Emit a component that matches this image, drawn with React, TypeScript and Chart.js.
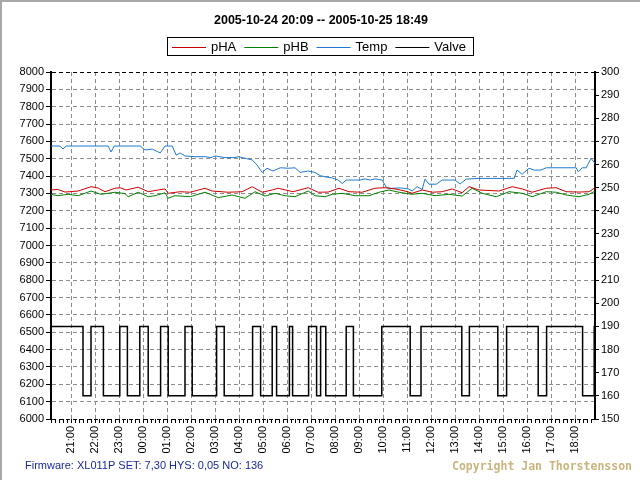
import React, { useEffect, useRef } from 'react';
import { Chart, registerables } from 'chart.js';

Chart.register(...registerables);

// ---------- text ----------
const titleText = '2005-10-24 20:09 -- 2005-10-25 18:49';
const firmwareText = 'Firmware: XL011P SET: 7,30 HYS: 0,05 NO: 136';
const copyrightText = 'Copyright Jan Thorstensson';
const seriesNames = ['pHA', 'pHB', 'Temp', 'Valve'];
const seriesColors = ['#cc0000', '#008000', '#1e7ad0', '#000000'];

// ---------- axes ----------
const startHour = 20;
const startMinute = 9;
const xMinMinutes = 0;
const xMaxMinutes = 1360; // 20:09 -> 18:49 next day
const leftMin = 6000;
const leftMax = 8000;
const leftStep = 100;
const rightMin = 150;
const rightMax = 300;
const rightStep = 10;

// ---------- data (x = minutes since 20:09) ----------
const phaTimes = [0, 17, 35, 68, 100, 118, 135, 160, 173, 188, 218, 243, 268, 285, 293, 323, 348, 385, 403, 443, 478, 503, 528, 553, 568, 605, 643, 668, 693, 720, 745, 778, 810, 835, 860, 885, 903, 928, 953, 978, 1003, 1028, 1045, 1070, 1120, 1153, 1178, 1203, 1238, 1263, 1288, 1320, 1345, 1360];
const phaValues = [7320, 7323, 7308, 7314, 7339, 7331, 7310, 7330, 7333, 7320, 7336, 7310, 7320, 7326, 7301, 7310, 7307, 7330, 7314, 7307, 7310, 7339, 7307, 7320, 7330, 7310, 7333, 7307, 7308, 7330, 7310, 7307, 7330, 7333, 7326, 7314, 7301, 7320, 7307, 7310, 7326, 7304, 7339, 7320, 7314, 7339, 7326, 7307, 7330, 7333, 7310, 7308, 7310, 7333];

const phbTimes = [0, 17, 43, 68, 100, 125, 160, 185, 193, 218, 243, 260, 285, 293, 310, 348, 385, 418, 453, 485, 510, 535, 560, 585, 610, 643, 660, 685, 703, 728, 760, 795, 820, 845, 870, 903, 928, 960, 995, 1028, 1053, 1078, 1113, 1145, 1178, 1203, 1238, 1263, 1288, 1320, 1345, 1360];
const phbValues = [7295, 7287, 7295, 7287, 7314, 7295, 7307, 7299, 7281, 7307, 7281, 7287, 7304, 7272, 7287, 7281, 7307, 7276, 7291, 7272, 7310, 7285, 7301, 7287, 7281, 7314, 7287, 7281, 7295, 7301, 7287, 7287, 7307, 7320, 7307, 7295, 7301, 7287, 7295, 7285, 7330, 7301, 7281, 7310, 7301, 7281, 7310, 7307, 7291, 7281, 7295, 7314];

const tempTimes = [0, 23, 30, 38, 143, 150, 158, 223, 235, 253, 273, 285, 303, 313, 323, 335, 360, 385, 400, 410, 435, 460, 468, 485, 503, 515, 528, 540, 555, 573, 593, 610, 623, 643, 660, 673, 685, 703, 718, 728, 738, 760, 773, 785, 798, 810, 828, 838, 848, 873, 893, 903, 915, 928, 935, 945, 963, 978, 1010, 1023, 1038, 1070, 1100, 1130, 1158, 1165, 1178, 1195, 1208, 1225, 1238, 1313, 1318, 1328, 1338, 1350, 1360];
const tempValues = [268.0, 268.0, 266.7, 268.0, 268.0, 265.4, 268.0, 268.0, 266.3, 266.7, 265.0, 268.0, 268.0, 264.1, 265.0, 263.7, 263.4, 263.4, 263.0, 263.7, 263.0, 263.0, 263.4, 262.7, 262.0, 259.8, 256.6, 258.4, 257.2, 258.6, 258.4, 258.6, 256.6, 257.2, 256.6, 255.2, 254.7, 254.2, 253.3, 251.8, 253.3, 253.3, 253.3, 253.8, 253.3, 253.8, 253.3, 250.2, 249.7, 249.9, 249.5, 248.6, 250.4, 249.2, 253.7, 251.5, 251.5, 253.3, 253.3, 251.6, 253.7, 254.0, 254.0, 254.0, 254.0, 257.6, 255.8, 258.4, 257.6, 257.6, 258.6, 258.6, 256.9, 258.6, 258.6, 262.7, 260.5];

const valveTimes = [0, 80, 100, 131, 172, 191, 222, 243, 274, 293, 335, 353, 414, 433, 504, 524, 553, 564, 596, 604, 644, 664, 674, 687, 738, 756, 827, 898, 925, 1027, 1046, 1117, 1139, 1218, 1239, 1329, 1358, 1360];
const valveValues = [190, 160, 190, 160, 190, 160, 190, 160, 190, 160, 190, 160, 190, 160, 190, 160, 190, 160, 190, 160, 190, 160, 190, 160, 190, 160, 190, 160, 190, 160, 190, 160, 190, 160, 190, 160, 190, 190];

const FONT = 'Arial, "Liberation Sans", sans-serif';

function toPoints(times: number[], values: number[]) {
  return times.map((t, i) => ({ x: t, y: values[i] }));
}

function clockMinutes(v: number) {
  return startHour * 60 + startMinute + v;
}
function isHourTick(v: number | undefined) {
  if (v === undefined) return false;
  return clockMinutes(v) % 60 === 0;
}
function hourLabel(v: number) {
  const h = Math.floor(clockMinutes(v) / 60) % 24;
  return (h < 10 ? '0' : '') + h + ':00';
}

const decorPlugin = {
  id: 'decor',
  afterDraw(chart: any) {
    const ctx = chart.ctx as CanvasRenderingContext2D;
    ctx.save();
    ctx.setLineDash([]);
    // frame
    ctx.fillStyle = '#a8a8a8';
    ctx.fillRect(0, 0, 640, 2);
    ctx.fillRect(0, 0, 2, 480);

    // title
    ctx.fillStyle = '#000';
    ctx.font = 'bold 12.5px ' + FONT;
    ctx.textAlign = 'center';
    ctx.textBaseline = 'middle';
    ctx.fillText(titleText, 321, 21);

    // legend
    ctx.font = '13px ' + FONT;
    const lineLen = 34;
    const widths = seriesNames.map((n) => ctx.measureText(n).width);
    const total = widths.reduce((a, w) => a + lineLen + 5 + w + 8, 0) + 4;
    const boxLeft = Math.round(320 - total / 2);
    const boxTop = 37;
    const boxH = 18;
    ctx.strokeStyle = '#000';
    ctx.lineWidth = 1;
    ctx.strokeRect(boxLeft + 0.5, boxTop + 0.5, Math.round(total), boxH);
    let x = boxLeft + 5;
    const cy = boxTop + boxH / 2 + 1;
    ctx.textAlign = 'left';
    seriesNames.forEach((n, i) => {
      ctx.fillStyle = seriesColors[i];
      ctx.fillRect(x, Math.round(cy), lineLen, 1);
      ctx.fillStyle = '#000';
      ctx.fillText(n, x + lineLen + 5, cy);
      x += lineLen + 5 + widths[i] + 8;
    });

    // footer
    ctx.textAlign = 'left';
    ctx.font = '11px ' + FONT;
    ctx.fillStyle = '#1a2a96';
    ctx.fillText(firmwareText, 25, 466);
    ctx.font = 'bold 11.5px "DejaVu Sans Mono", monospace';
    ctx.fillStyle = '#c8b47c';
    ctx.textAlign = 'right';
    ctx.fillText(copyrightText, 632, 467);
    ctx.restore();
  },
};

export default function App() {
  const ref = useRef<HTMLCanvasElement>(null);
  useEffect(() => {
    const canvas = ref.current!;
    const chart = new Chart(canvas, {
      type: 'line',
      data: {
        datasets: [
          { label: seriesNames[0], data: toPoints(phaTimes, phaValues), yAxisID: 'y', borderColor: seriesColors[0], borderWidth: 1, pointRadius: 0, tension: 0 },
          { label: seriesNames[1], data: toPoints(phbTimes, phbValues), yAxisID: 'y', borderColor: seriesColors[1], borderWidth: 1, pointRadius: 0, tension: 0 },
          { label: seriesNames[2], data: toPoints(tempTimes, tempValues), yAxisID: 'y2', borderColor: seriesColors[2], borderWidth: 1, pointRadius: 0, tension: 0 },
          { label: seriesNames[3], data: toPoints(valveTimes, valveValues), yAxisID: 'y2', borderColor: seriesColors[3], borderWidth: 1.5, pointRadius: 0, stepped: true },
        ],
      },
      options: {
        responsive: false,
        animation: false,
        devicePixelRatio: 1,
        layout: { padding: { top: 72, left: 0, right: 0, bottom: 0 } },
        plugins: {
          legend: { display: false },
          title: { display: false },
          tooltip: { enabled: false },
        },
        scales: {
          x: {
            type: 'linear',
            position: 'bottom',
            min: xMinMinutes,
            max: xMaxMinutes,
            afterBuildTicks: (scale: any) => {
              const t: any[] = [];
              for (let v = xMinMinutes + 1; v <= xMaxMinutes; v += 10) t.push({ value: v });
              scale.ticks = t;
            },
            afterFit: (scale: any) => { scale.height = 61; },
            ticks: {
              autoSkip: false,
              minRotation: 90,
              maxRotation: 90,
              padding: 3,
              color: '#000',
              font: { family: FONT, size: 11 },
              callback: (v: any) => (isHourTick(Number(v)) ? hourLabel(Number(v)) : ''),
            },
            grid: {
              color: (c: any) => (isHourTick(c.tick?.value) ? '#8c8c8c' : 'rgba(0,0,0,0)'),
              tickColor: '#000',
              tickLength: 4,
              tickBorderDash: [],
              lineWidth: 1,
            },
            border: { display: false, dash: [4, 3] },
          },
          y: {
            type: 'linear',
            position: 'left',
            min: leftMin,
            max: leftMax,
            afterFit: (scale: any) => { scale.width = 51; },
            ticks: {
              stepSize: leftStep,
              autoSkip: false,
              padding: 2,
              color: '#000',
              font: { family: FONT, size: 11 },
              callback: (v: any) => String(v),
            },
            grid: {
              color: (c: any) => (c.tick && (c.tick.value === leftMin || c.tick.value === leftMax) ? '#000' : '#8c8c8c'),
              tickColor: '#000',
              tickLength: 5,
              tickBorderDash: [],
              lineWidth: 1,
            },
            border: { display: true, color: '#000', width: 2, dash: [4, 3] },
          },
          y2: {
            type: 'linear',
            position: 'right',
            min: rightMin,
            max: rightMax,
            afterFit: (scale: any) => { scale.width = 45; },
            ticks: {
              stepSize: rightStep,
              autoSkip: false,
              padding: 2,
              color: '#000',
              font: { family: FONT, size: 11 },
              callback: (v: any) => String(v),
            },
            grid: {
              drawOnChartArea: false,
              tickColor: '#000',
              tickLength: 4,
              tickBorderDash: [],
            },
            border: { display: true, color: '#000', width: 2 },
          },
        },
      } as any,
      plugins: [decorPlugin],
    });
    return () => chart.destroy();
  }, []);
  return (
    <div style={{ position: 'absolute', left: 0, top: 0, width: 640, height: 480, background: '#fff' }}>
      <canvas ref={ref} width={640} height={480} style={{ display: 'block', width: 640, height: 480 }} />
    </div>
  );
}
